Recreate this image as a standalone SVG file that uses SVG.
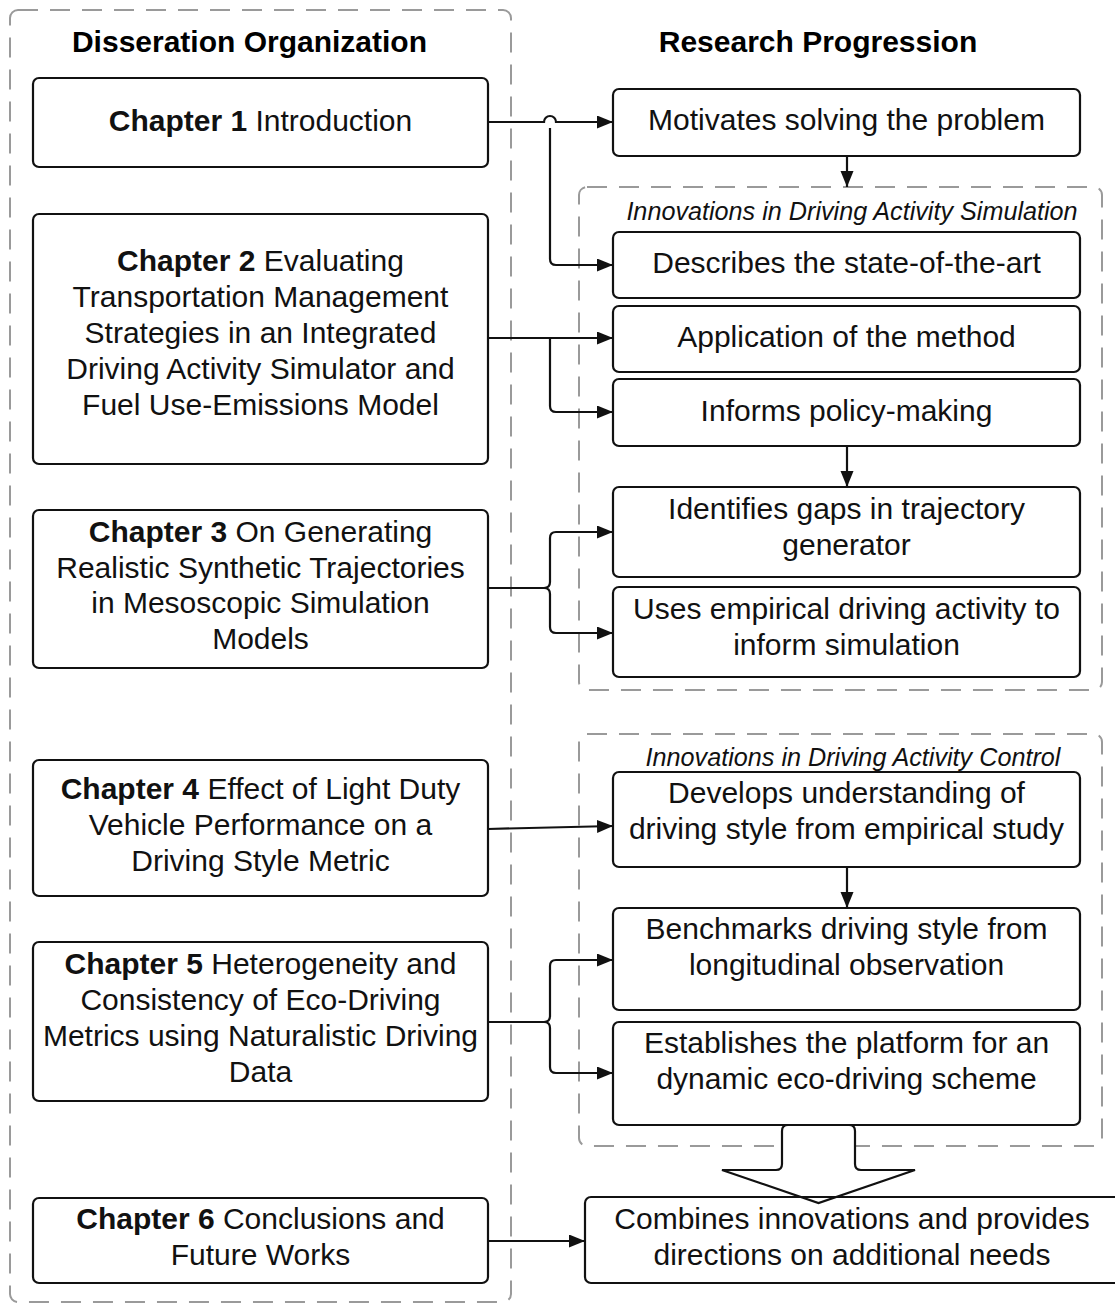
<svg xmlns="http://www.w3.org/2000/svg" width="1115" height="1306" viewBox="0 0 1115 1306">
  <style>
    .box { fill: #ffffff; stroke: #111111; stroke-width: 2.2; }
    .open { fill: none; stroke: #111111; stroke-width: 2.2; }
    .group { fill: none; stroke: #9a9a9a; stroke-width: 2; stroke-dasharray: 20 12; }
    .t { font-family: "Liberation Sans", Arial, sans-serif; font-size: 30px; fill: #111111; text-anchor: middle; }
    .b { font-weight: bold; }
    .head { font-family: "Liberation Sans", Arial, sans-serif; font-size: 30px; font-weight: bold; fill: #000000; text-anchor: middle; }
    .title { font-family: "Liberation Sans", Arial, sans-serif; font-size: 25.2px; font-style: italic; fill: #111111; text-anchor: middle; }
    .wire { fill: none; stroke: #111111; stroke-width: 2.2; }
  </style>
  <defs>
    <marker id="arrow" markerUnits="userSpaceOnUse" markerWidth="18" markerHeight="14" refX="16" refY="6.5" orient="auto">
      <path d="M0,0 L16,6.5 L0,13 Z" fill="#111111"/>
    </marker>
  </defs>

  <rect width="1115" height="1306" fill="#ffffff"/>

  <!-- column frames -->
  <g id="frame-organization">
    <rect class="group" x="10" y="10" width="501" height="1292" rx="8"/>
    <text class="head" x="249.5" y="52">Disseration Organization</text>
  </g>
  <g id="frame-progression">
    <text class="head" x="818" y="52">Research Progression</text>
  </g>
  <g id="group-simulation">
    <rect class="group" x="579" y="187" width="523" height="503" rx="8"/>
    <text class="title" x="852" y="220">Innovations in Driving Activity Simulation</text>
  </g>
  <g id="group-control">
    <rect class="group" x="579" y="734" width="523" height="412" rx="8"/>
    <text class="title" x="853" y="766">Innovations in Driving Activity Control</text>
  </g>

  <!-- chapters -->
  <g id="chapter1">
    <rect class="box" x="33" y="78" width="455" height="89" rx="6"/>
    <text class="t" x="260.5" y="131"><tspan class="b">Chapter 1</tspan> Introduction</text>
  </g>
  <g id="chapter2">
    <rect class="box" x="33" y="214" width="455" height="250" rx="6"/>
    <text class="t" x="260.5" y="271"><tspan class="b">Chapter 2</tspan> Evaluating</text>
    <text class="t" x="260.5" y="307">Transportation Management</text>
    <text class="t" x="260.5" y="343">Strategies in an Integrated</text>
    <text class="t" x="260.5" y="379">Driving Activity Simulator and</text>
    <text class="t" x="260.5" y="415">Fuel Use-Emissions Model</text>
  </g>
  <g id="chapter3">
    <rect class="box" x="33" y="510" width="455" height="158" rx="6"/>
    <text class="t" x="260.5" y="542"><tspan class="b">Chapter 3</tspan> On Generating</text>
    <text class="t" x="260.5" y="577.5">Realistic Synthetic Trajectories</text>
    <text class="t" x="260.5" y="613">in Mesoscopic Simulation</text>
    <text class="t" x="260.5" y="648.5">Models</text>
  </g>
  <g id="chapter4">
    <rect class="box" x="33" y="760" width="455" height="136" rx="6"/>
    <text class="t" x="260.5" y="798.5"><tspan class="b">Chapter 4</tspan> Effect of Light Duty</text>
    <text class="t" x="260.5" y="834.5">Vehicle Performance on a</text>
    <text class="t" x="260.5" y="870.5">Driving Style Metric</text>
  </g>
  <g id="chapter5">
    <rect class="box" x="33" y="942" width="455" height="159" rx="6"/>
    <text class="t" x="260.5" y="973.5"><tspan class="b">Chapter 5</tspan> Heterogeneity and</text>
    <text class="t" x="260.5" y="1009.5">Consistency of Eco-Driving</text>
    <text class="t" x="260.5" y="1045.5">Metrics using Naturalistic Driving</text>
    <text class="t" x="260.5" y="1081.5">Data</text>
  </g>
  <g id="chapter6">
    <rect class="box" x="33" y="1198" width="455" height="85" rx="6"/>
    <text class="t" x="260.5" y="1228.5"><tspan class="b">Chapter 6</tspan> Conclusions and</text>
    <text class="t" x="260.5" y="1264.5">Future Works</text>
  </g>

  <!-- research progression steps -->
  <g id="motivates">
    <rect class="box" x="613" y="89" width="467" height="67" rx="6"/>
    <text class="t" x="846.5" y="130">Motivates solving the problem</text>
  </g>
  <g id="describes">
    <rect class="box" x="613" y="232" width="467" height="66" rx="6"/>
    <text class="t" x="846.5" y="272.5">Describes the state-of-the-art</text>
  </g>
  <g id="application">
    <rect class="box" x="613" y="306" width="467" height="66" rx="6"/>
    <text class="t" x="846.5" y="346.5">Application of the method</text>
  </g>
  <g id="informs">
    <rect class="box" x="613" y="379" width="467" height="67" rx="6"/>
    <text class="t" x="846.5" y="420.5">Informs policy-making</text>
  </g>
  <g id="identifies">
    <rect class="box" x="613" y="487" width="467" height="90" rx="6"/>
    <text class="t" x="846.5" y="518.5">Identifies gaps in trajectory</text>
    <text class="t" x="846.5" y="554.5">generator</text>
  </g>
  <g id="uses">
    <rect class="box" x="613" y="587" width="467" height="90" rx="6"/>
    <text class="t" x="846.5" y="618.5">Uses empirical driving activity to</text>
    <text class="t" x="846.5" y="654.5">inform simulation</text>
  </g>
  <g id="develops">
    <rect class="box" x="613" y="772" width="467" height="95" rx="6"/>
    <text class="t" x="846.5" y="802.5">Develops understanding of</text>
    <text class="t" x="846.5" y="838.5">driving style from empirical study</text>
  </g>
  <g id="benchmarks">
    <rect class="box" x="613" y="908" width="467" height="102" rx="6"/>
    <text class="t" x="846.5" y="938.5">Benchmarks driving style from</text>
    <text class="t" x="846.5" y="975">longitudinal observation</text>
  </g>
  <g id="establishes">
    <rect class="box" x="613" y="1022" width="467" height="103" rx="6"/>
    <text class="t" x="846.5" y="1052.5">Establishes the platform for an</text>
    <text class="t" x="846.5" y="1088.5">dynamic eco-driving scheme</text>
  </g>

  <!-- block arrow feeding the final step -->
  <g id="combine-arrow">
    <path class="box" d="M782,1131 Q782,1125 788,1125 H849 Q855,1125 855,1131 V1164 Q855,1170 861,1170 H915 L818.5,1203 L722,1170 H776 Q782,1170 782,1164 Z"/>
  </g>
  <g id="combines">
    <rect class="open" x="585" y="1197" width="545" height="86" rx="6"/>
    <text class="t" x="852" y="1228.5">Combines innovations and provides</text>
    <text class="t" x="852" y="1264.5">directions on additional needs</text>
  </g>

  <!-- connectors -->
  <g id="connectors">
    <!-- chapter 1, hopping over the chapter 2 trunk -->
    <path class="wire" d="M488,122 H544 A6,6 0 0 1 556,122 H613" marker-end="url(#arrow)"/>
    <!-- chapter 2 trunk and branches -->
    <path class="wire" d="M488,338 H613" marker-end="url(#arrow)"/>
    <path class="wire" d="M550,128 V259 Q550,265 556,265 H613" marker-end="url(#arrow)"/>
    <path class="wire" d="M550,338 V406 Q550,412 556,412 H613" marker-end="url(#arrow)"/>
    <!-- chapter 3 -->
    <path class="wire" d="M488,588 H544 Q550,588 550,582 V538 Q550,532 556,532 H613" marker-end="url(#arrow)"/>
    <path class="wire" d="M544,588 Q550,588 550,594 V627 Q550,633 556,633 H613" marker-end="url(#arrow)"/>
    <!-- chapter 4 -->
    <path class="wire" d="M488,829 L613,826" marker-end="url(#arrow)"/>
    <!-- chapter 5 -->
    <path class="wire" d="M488,1022 H544 Q550,1022 550,1016 V966 Q550,960 556,960 H613" marker-end="url(#arrow)"/>
    <path class="wire" d="M544,1022 Q550,1022 550,1028 V1067 Q550,1073 556,1073 H613" marker-end="url(#arrow)"/>
    <!-- chapter 6 -->
    <path class="wire" d="M488,1241 H585" marker-end="url(#arrow)"/>
    <!-- vertical steps -->
    <path class="wire" d="M847,156 V187" marker-end="url(#arrow)"/>
    <path class="wire" d="M847,446 V487" marker-end="url(#arrow)"/>
    <path class="wire" d="M847,867 V908" marker-end="url(#arrow)"/>
  </g>
</svg>
